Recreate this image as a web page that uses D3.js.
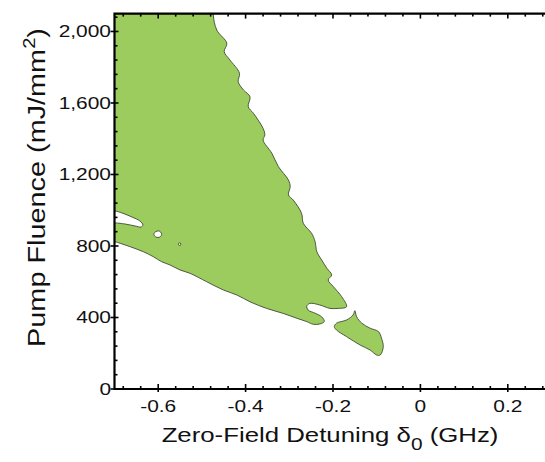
<!DOCTYPE html>
<html>
<head>
<meta charset="utf-8">
<script src="https://cdn.jsdelivr.net/npm/d3@7"></script>
<style>
  html, body { margin: 0; padding: 0; background: #fff; }
  svg { display: block; }
  text { font-family: "Liberation Sans", Arial, sans-serif; fill: #111; }
</style>
</head>
<body>
<div id="chart"></div>
<script>
// ── Data (detuning in GHz, fluence in mJ/mm²) ─────────────────────────────────
const detuningTicks = [-0.6, -0.4, -0.2, 0, 0.2];
const detuningMinor = [-0.68, -0.64, -0.56, -0.52, -0.48, -0.44, -0.36, -0.32, -0.28, -0.24,
                       -0.16, -0.12, -0.08, -0.04, 0.04, 0.08, 0.12, 0.16, 0.24, 0.28];
const fluenceTicks  = [0, 400, 800, 1200, 1600, 2000];
const fluenceMinor  = [80, 160, 240, 320, 480, 560, 640, 720, 880, 960, 1040, 1120,
                       1280, 1360, 1440, 1520, 1680, 1760, 1840, 1920, 2080];
const fluenceLabels = ["0", "400", "800", "1,200", "1,600", "2,000"];

// main lasing region (outline, clockwise from top-left, runs outside the frame on left/top)
const mainRegion = [
  [-0.76, 2200], [-0.47, 2200], [-0.474, 2098], [-0.466, 2008], [-0.443, 1934], [-0.449, 1887],
  [-0.436, 1841], [-0.414, 1766], [-0.417, 1719], [-0.405, 1673], [-0.390, 1635], [-0.394, 1579],
  [-0.382, 1542], [-0.360, 1458], [-0.356, 1421], [-0.360, 1393], [-0.340, 1319], [-0.325, 1244],
  [-0.302, 1169], [-0.298, 1132], [-0.302, 1085], [-0.291, 1057], [-0.272, 983], [-0.268, 927],
  [-0.249, 871], [-0.241, 824], [-0.237, 768], [-0.226, 722], [-0.214, 675], [-0.203, 638],
  [-0.211, 610], [-0.199, 572], [-0.180, 516], [-0.169, 460], [-0.188, 451], [-0.207, 451],
  [-0.230, 470], [-0.253, 479], [-0.260, 464], [-0.257, 442], [-0.241, 424], [-0.226, 404],
  [-0.220, 377], [-0.230, 364], [-0.245, 362], [-0.260, 377], [-0.283, 396], [-0.314, 423],
  [-0.352, 451], [-0.390, 488], [-0.420, 526], [-0.451, 554], [-0.489, 600], [-0.527, 647],
  [-0.550, 666], [-0.573, 694], [-0.592, 712], [-0.611, 740], [-0.634, 768], [-0.664, 796],
  [-0.687, 815], [-0.700, 824], [-0.76, 830],
  [-0.76, 929], [-0.700, 929], [-0.676, 923], [-0.653, 912], [-0.639, 906], [-0.635, 918],
  [-0.642, 940], [-0.660, 962], [-0.683, 985], [-0.700, 996], [-0.76, 1000]
];
// small holes inside the main region
const holeA = [[-0.607, 878], [-0.598, 884], [-0.592, 867], [-0.596, 850], [-0.605, 850], [-0.610, 864]];
const holeB = [[-0.553, 816], [-0.549, 816], [-0.549, 804], [-0.553, 804]];
// detached lobe near -0.15 GHz
const lobeRegion = [
  [-0.197, 349], [-0.192, 368], [-0.169, 386], [-0.154, 414], [-0.150, 438], [-0.146, 404],
  [-0.134, 368], [-0.115, 340], [-0.096, 321], [-0.089, 284], [-0.085, 237], [-0.092, 190],
  [-0.100, 190], [-0.115, 218], [-0.138, 246], [-0.169, 293], [-0.192, 330]
];

// ── Config ────────────────────────────────────────────────────────────────────
const FILL   = "#9ccc5e";
const EDGE   = "#4b5a3c";
const W = 545, H = 462;
const plot = { left: 114.5, right: 551.5, top: 13.6, bottom: 389 };

const svg = d3.select("#chart").append("svg").attr("width", W).attr("height", H);

const x = d3.scaleLinear().domain([-0.7, 0.3]).range([plot.left, plot.right]);
const y = d3.scaleLinear().domain([0, 2100]).range([plot.bottom, plot.top]);

// ── Regions ───────────────────────────────────────────────────────────────────
svg.append("clipPath").attr("id", "clip")
  .append("rect")
  .attr("x", plot.left).attr("y", plot.top)
  .attr("width", plot.right - plot.left).attr("height", plot.bottom - plot.top);

const line = d3.line().x(d => x(d[0])).y(d => y(d[1]))
  .curve(d3.curveCatmullRomClosed.alpha(0.5));

const g = svg.append("g").attr("clip-path", "url(#clip)");
g.append("path")
  .attr("d", line(mainRegion) + line(holeA) + line(holeB))
  .attr("fill-rule", "evenodd")
  .attr("fill", FILL).attr("stroke", EDGE).attr("stroke-width", 1);
g.append("path")
  .attr("d", line(lobeRegion))
  .attr("fill", FILL).attr("stroke", EDGE).attr("stroke-width", 1);

// ── Axes / frame ──────────────────────────────────────────────────────────────
const frame = svg.append("g").attr("stroke", "#000").attr("fill", "none");
frame.append("path")
  .attr("d", `M${plot.right},${plot.top}H${plot.left}V${plot.bottom}H${plot.right}Z`)
  .attr("stroke-width", 2.2);

function xTick(v, len, up, down) {
  frame.append("line").attr("x1", x(v)).attr("x2", x(v))
    .attr("y1", plot.bottom - up).attr("y2", plot.bottom + down).attr("stroke-width", 1.6);
  frame.append("line").attr("x1", x(v)).attr("x2", x(v))
    .attr("y1", plot.top).attr("y2", plot.top + len).attr("stroke-width", 1.6);
}
detuningTicks.forEach(v => xTick(v, 5, 5, 3));
detuningMinor.forEach(v => xTick(v, 3, 3, 0));

function yTick(v, left, right) {
  frame.append("line").attr("y1", y(v)).attr("y2", y(v))
    .attr("x1", plot.left - left).attr("x2", plot.left + right).attr("stroke-width", 1.6);
}
fluenceTicks.forEach(v => yTick(v, 4, 4));
fluenceMinor.forEach(v => yTick(v, 0, 3));

const STRETCH = 1.23;

svg.append("g").selectAll("text").data(detuningTicks).join("text")
  .attr("transform", d => `translate(${x(d)},412) scale(${STRETCH},1)`)
  .attr("text-anchor", "middle").attr("font-size", 17)
  .text(d => d === 0 ? "0" : d3.format(".1f")(d).replace("−", "-"));

svg.append("g").selectAll("text").data(fluenceTicks).join("text")
  .attr("transform", d => `translate(111,${y(d) + 6}) scale(${STRETCH},1)`)
  .attr("text-anchor", "end").attr("font-size", 17)
  .text((d, i) => fluenceLabels[i]);

// ── Titles ────────────────────────────────────────────────────────────────────
function fitText(t, target) {
  const w = t.node().getBBox().width;
  return target / w;
}

const xt = svg.append("text").attr("text-anchor", "middle").attr("font-size", 21);
xt.append("tspan").text("Zero-Field Detuning \u03B4");
xt.append("tspan").attr("font-size", 17).attr("dy", 8).text("0");
xt.append("tspan").attr("dy", -8).text(" (GHz)");
const sx = fitText(xt, 337);
xt.attr("transform", `translate(330,442) scale(${sx},1)`);

const yt = svg.append("text").attr("text-anchor", "middle").attr("font-size", 23);
yt.append("tspan").text("Pump Fluence (mJ/mm");
yt.append("tspan").attr("font-size", 16).attr("dy", -10).text("2");
yt.append("tspan").attr("dy", 10).text(")");
const sy = fitText(yt, 319);
yt.attr("transform", `translate(45,187.5) rotate(-90) scale(${sy},1)`);
</script>
</body>
</html>
